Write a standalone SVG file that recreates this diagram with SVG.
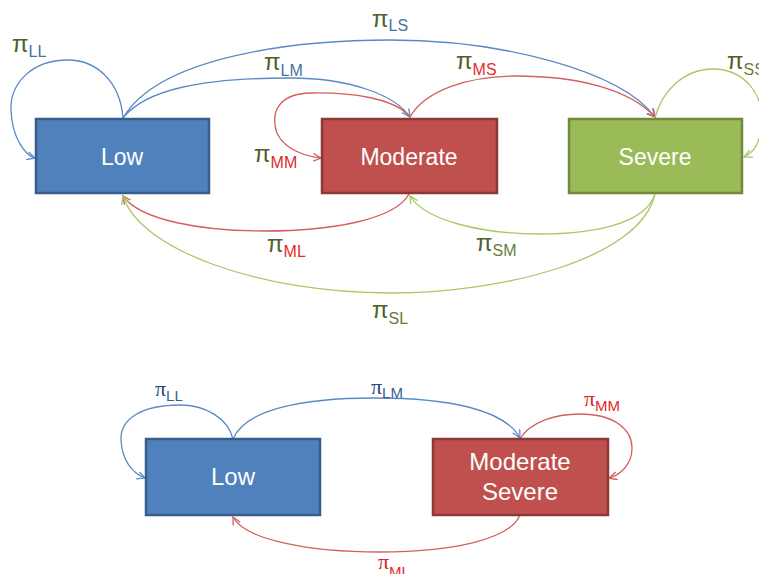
<svg xmlns="http://www.w3.org/2000/svg" width="759" height="574" viewBox="0 0 759 574">
<style>
.box{stroke-width:2.5}
.bl{fill:#4F81BD;stroke:#385D8A}
.rd{fill:#C0504D;stroke:#8C3836}
.gr{fill:#9BBB59;stroke:#71893F}
.bt{font-family:"Liberation Sans",Arial,sans-serif;fill:#FFFFFF;text-anchor:middle}
.c{fill:none;stroke-width:1.3}
.cb{stroke:#5A8AC6}
.cr{stroke:#D2605E}
.cg{stroke:#A8C866}
.lab{font-family:"Liberation Sans",Arial,sans-serif;font-size:24px;fill:#4F6228}
.sub{font-size:16px}
.slab{font-family:"Liberation Serif","Times New Roman",serif;font-size:22px}
.ssub{font-family:"Liberation Sans",Arial,sans-serif;font-size:15px}
.sb{fill:#4572A7}
.sr{fill:#E52A2A}
.sg{fill:#657D3A}
</style>
<defs>
<marker id="ab" markerUnits="userSpaceOnUse" markerWidth="10" markerHeight="10" refX="8" refY="4" orient="auto"><path d="M0,0 L8,4 L0,8" fill="none" stroke="#5A8AC6" stroke-width="1.3"/></marker>
<marker id="ar" markerUnits="userSpaceOnUse" markerWidth="10" markerHeight="10" refX="8" refY="4" orient="auto"><path d="M0,0 L8,4 L0,8" fill="none" stroke="#D2605E" stroke-width="1.3"/></marker>
<marker id="ag" markerUnits="userSpaceOnUse" markerWidth="10" markerHeight="10" refX="8" refY="4" orient="auto"><path d="M0,0 L8,4 L0,8" fill="none" stroke="#A8C866" stroke-width="1.3"/></marker>
</defs>

<g id="connectors">
<!-- top diagram -->
<path class="c cb" marker-end="url(#ab)" d="M123,118 C120,80 95,60 68,60 C30,60 10,85 11,110 C12,138 25,155 35,158"/>
<path class="c cb" marker-end="url(#ab)" d="M123,118 C160,55 300,40 390,40 C500,40 620,70 655,117"/>
<path class="c cb" marker-end="url(#ab)" d="M123,118 C145,90 200,78 290,78 C350,78 395,95 410,117"/>
<path class="c cr" marker-end="url(#ar)" d="M410,117 C395,98 350,92 310,93 C280,94 273,110 275,125 C277,145 300,156 321,158"/>
<path class="c cr" marker-end="url(#ar)" d="M410,117 C425,90 470,76 515,76 C580,76 630,90 655,117"/>
<path class="c cg" marker-end="url(#ag)" d="M655,118 C662,90 685,69 713,69 C745,69 762,95 762,118 C762,140 755,152 744,157"/>
<path class="c cr" marker-end="url(#ar)" d="M409,194 C395,220 330,231 265,231 C200,231 140,220 123,196"/>
<path class="c cg" marker-end="url(#ag)" d="M655,194 C645,225 590,234 540,234 C480,234 425,220 410,196"/>
<path class="c cg" marker-end="url(#ag)" d="M655,194 C640,260 500,293 390,293 C260,293 140,250 123,196"/>
<!-- bottom diagram -->
<path class="c cb" marker-end="url(#ab)" d="M233,439 C228,418 205,405 180,405 C140,405 120,420 121,440 C122,460 132,473 145,478"/>
<path class="c cb" marker-end="url(#ab)" d="M233,439 C245,410 300,398 375,398 C450,398 505,410 520,438"/>
<path class="c cr" marker-end="url(#ar)" d="M520,439 C530,422 555,414 580,414 C615,414 632,430 632,448 C632,465 620,475 609,478"/>
<path class="c cr" marker-end="url(#ar)" d="M520,515 C510,540 450,552 380,552 C310,552 245,540 233,517"/>
</g>

<g id="node-low">
<rect class="box bl" x="36" y="119" width="173" height="74"/>
<text class="bt" x="122" y="165" font-size="23">Low</text>
</g>
<g id="node-moderate">
<rect class="box rd" x="322" y="119" width="175" height="74"/>
<text class="bt" x="409" y="165" font-size="23">Moderate</text>
</g>
<g id="node-severe">
<rect class="box gr" x="569" y="119" width="173" height="74"/>
<text class="bt" x="655" y="165" font-size="23">Severe</text>
</g>
<g id="node-low2">
<rect class="box bl" x="146" y="439" width="174" height="76"/>
<text class="bt" x="233" y="485" font-size="24">Low</text>
</g>
<g id="node-modsev">
<rect class="box rd" x="433" y="439" width="175" height="76"/>
<text class="bt" x="520" y="470" font-size="24">Moderate</text>
<text class="bt" x="520" y="500" font-size="24">Severe</text>
</g>

<g id="labels">
<text class="lab" x="12" y="52">π<tspan class="sub sb" dy="5">LL</tspan></text>
<text class="lab" x="372" y="27">π<tspan class="sub sb" dy="4">LS</tspan></text>
<text class="lab" x="264" y="70">π<tspan class="sub sb" dy="6">LM</tspan></text>
<text class="lab" x="456" y="69">π<tspan class="sub sr" dy="6">MS</tspan></text>
<text class="lab" x="727" y="69">π<tspan class="sub sg" dy="6">SS</tspan></text>
<text class="lab" x="254" y="162">π<tspan class="sub sr" dy="6">MM</tspan></text>
<text class="lab" x="267" y="252">π<tspan class="sub sr" dy="5">ML</tspan></text>
<text class="lab" x="476" y="251">π<tspan class="sub sg" dy="5">SM</tspan></text>
<text class="lab" x="372" y="318">π<tspan class="sub sg" dy="6">SL</tspan></text>

<text class="slab" x="155" y="396" fill="#1F497D">π<tspan class="ssub" fill="#376092" dy="5">LL</tspan></text>
<text class="slab" x="371" y="394" fill="#1F497D">π<tspan class="ssub" fill="#376092" dy="4">LM</tspan></text>
<text class="slab" x="584" y="406" fill="#D42A2A">π<tspan class="ssub" fill="#E02B2B" dy="5">MM</tspan></text>
<text class="slab" x="378" y="569" fill="#D42A2A">π<tspan class="ssub" fill="#E02B2B" dy="8">ML</tspan></text>
</g>
</svg>
